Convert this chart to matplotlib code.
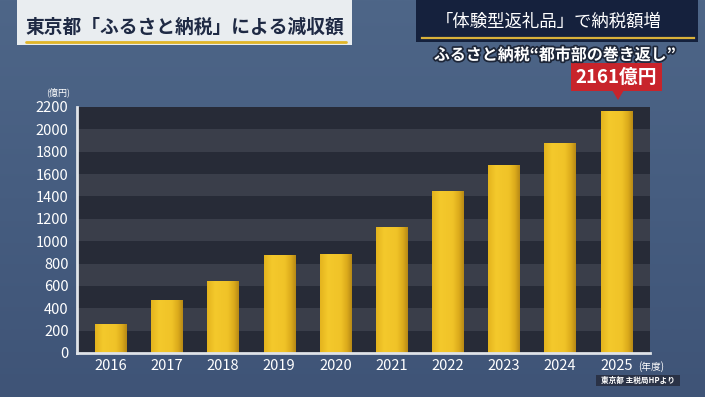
import numpy as np
import matplotlib
matplotlib.use("Agg")
import matplotlib.pyplot as plt
from matplotlib.patches import Rectangle, Polygon
from matplotlib.colors import LinearSegmentedColormap
import matplotlib.patheffects as pe

plt.rcParams['font.family'] = ['Noto Sans CJK JP', 'DejaVu Sans']

years = ["2016", "2017", "2018", "2019", "2020", "2021", "2022", "2023", "2024", "2025"]
values = [261, 474, 646, 874, 889, 1129, 1447, 1679, 1881, 2161]
yticks = [0, 200, 400, 600, 800, 1000, 1200, 1400, 1600, 1800, 2000, 2200]
title = "東京都「ふるさと納税」による減収額"
headline = "「体験型返礼品」で納税額増"
subhead = "ふるさと納税“都市部の巻き返し”"
callout = "2161億円"
unit = "(億円)"
xunit = "(年度)"
source = "東京都 主税局HPより"

W, H = 705, 397
fig = plt.figure(figsize=(W / 100, H / 100), dpi=100)

# background
bg = fig.add_axes([0, 0, 1, 1], zorder=0)
bg.set_axis_off()
grad = np.linspace(0, 1, 200).reshape(-1, 1)
bg_cmap = LinearSegmentedColormap.from_list("bg", ["#4e6688", "#465d80", "#3f5477"])
bg.imshow(grad, cmap=bg_cmap, aspect="auto", extent=[0, 1, 0, 1], origin="upper")
bg.set_xlim(0, 1)
bg.set_ylim(0, 1)

def fx(px):
    return px / W

def fy(py):
    return 1 - py / H

# left title box
bg.add_patch(Rectangle((fx(17), fy(45)), fx(352) - fx(17), fy(0) - fy(45),
                       facecolor="#e9edf0", edgecolor="none", zorder=2))
bg.text(fx(185), fy(27), title, fontsize=13.5, fontweight="bold", color="#1f2a44",
        ha="center", va="center", zorder=3)
bg.plot([fx(26), fx(346)], [fy(41.5), fy(41.5)], color="#e2b62a", lw=2, zorder=3,
        solid_capstyle="round")

# right headline box
bg.add_patch(Rectangle((fx(416), fy(42)), fx(698) - fx(416), fy(0) - fy(42),
                       facecolor="#15213d", edgecolor="none", zorder=2))
bg.text(fx(549), fy(22), headline, fontsize=12.5, color="white",
        ha="center", va="center", zorder=3)
bg.plot([fx(422), fx(694)], [fy(37.5), fy(37.5)], color="#d9b13a", lw=1.6, zorder=3)
bg.text(fx(555), fy(55), subhead, fontsize=11.5, fontweight="bold", color="white",
        ha="center", va="center", zorder=3,
        path_effects=[pe.withStroke(linewidth=2.5, foreground="#1d2638")])

# chart axes
ax = fig.add_axes([fx(77), fy(353), fx(650) - fx(77), fy(107) - fy(353)], zorder=1)
ax.set_facecolor("#272b37")
for i in range(len(yticks) - 1):
    ax.axhspan(yticks[i], yticks[i + 1],
               facecolor="#272b37" if i % 2 == 0 else "#3a3e4a", edgecolor="none", zorder=0)

x = np.arange(len(years))
bars = ax.bar(x, values, width=0.56, color="#f0c228", edgecolor="none", zorder=2)
bar_cmap = LinearSegmentedColormap.from_list(
    "bar", [(0, "#e4b41e"), (0.25, "#f4c92c"), (0.65, "#f0c328"), (0.85, "#dcab1c"), (1, "#b88a16")])
hgrad = np.linspace(0, 1, 64).reshape(1, -1)
for b in bars:
    x0 = b.get_x()
    w = b.get_width()
    h = b.get_height()
    im = ax.imshow(hgrad, cmap=bar_cmap, aspect="auto",
                   extent=[x0, x0 + w, 0, h], zorder=3, interpolation="bilinear")
    im.set_clip_path(b)

ax.set_xlim(-0.6, len(years) - 0.4)
ax.set_ylim(0, 2200)
ax.set_yticks(yticks)
ax.set_yticklabels([str(v) for v in yticks], fontsize=10.5, color="white")
ax.set_xticks(x)
ax.set_xticklabels(years, fontsize=10.5, color="white")
ax.tick_params(axis="both", length=0, pad=4)
ax.tick_params(axis="y", pad=6)
for s in ["top", "right"]:
    ax.spines[s].set_visible(False)
for s in ["left", "bottom"]:
    ax.spines[s].set_color("#dfe3e8")
    ax.spines[s].set_linewidth(2)
    ax.spines[s].set_zorder(5)

# unit labels
bg.text(fx(58), fy(92), unit, fontsize=6.5, color="white", ha="center", va="center", zorder=3)
bg.text(fx(651), fy(367), xunit, fontsize=7, color="white", ha="center", va="center", zorder=3)

# source box
bg.add_patch(Rectangle((fx(596), fy(386)), fx(680) - fx(596), fy(375) - fy(386),
                       facecolor="#2a3246", edgecolor="none", zorder=2))
bg.text(fx(638), fy(380.5), source, fontsize=5.5, fontweight="bold", color="white",
        ha="center", va="center", zorder=3)

# callout for last bar
bg.add_patch(Rectangle((fx(571), fy(91)), fx(662) - fx(571), fy(63) - fy(91),
                       facecolor="#c8242b", edgecolor="none", zorder=2))
bg.add_patch(Polygon([(fx(612), fy(90)), (fx(624), fy(90)), (fx(618), fy(100))],
                     closed=True, facecolor="#c8242b", edgecolor="none", zorder=2))
bg.text(fx(616.5), fy(77), callout, fontsize=13.5, fontweight="bold", color="white",
        ha="center", va="center", zorder=3)

fig.savefig("out.png", dpi=100)
